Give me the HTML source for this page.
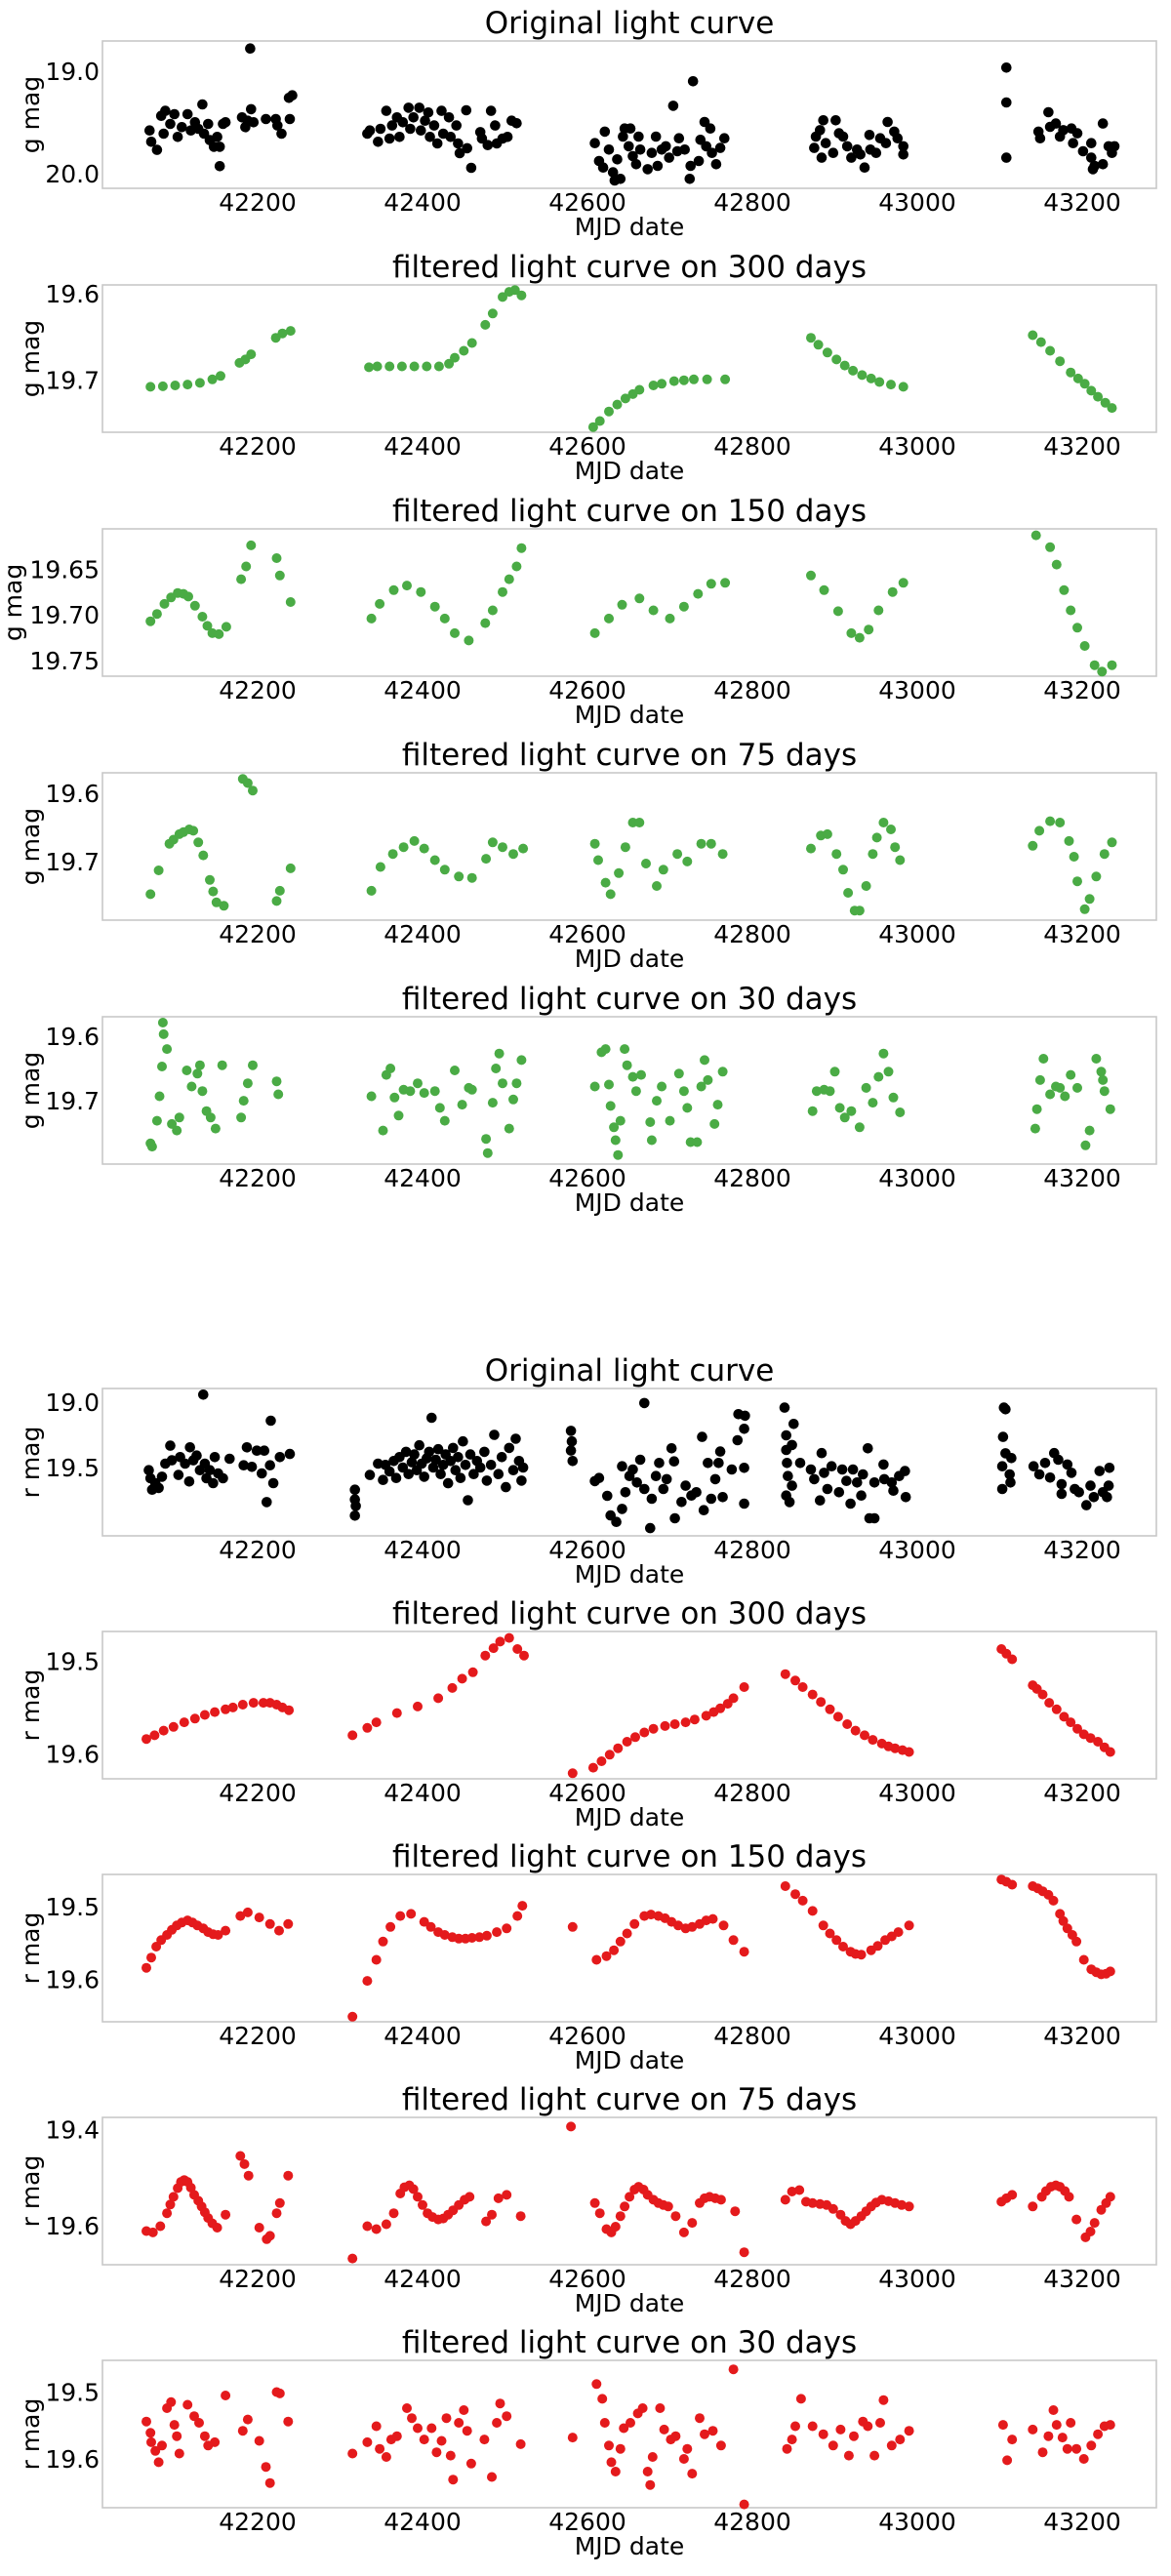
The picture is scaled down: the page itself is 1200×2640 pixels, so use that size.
<!DOCTYPE html>
<html>
<head>
<meta charset="utf-8">
<style>
  html, body { margin: 0; padding: 0; background: #ffffff; }
  svg { display: block; }
  text { font-family: "DejaVu Sans", "Liberation Sans", sans-serif; fill: #000; }
</style>
</head>
<body>
<svg id="chart" width="1200" height="2640" viewBox="0 0 1200 2640" xmlns="http://www.w3.org/2000/svg">
  <rect x="0" y="0" width="1200" height="2640" fill="#ffffff"/>
</svg>
<script>
// ---------- data: x tick labels ----------
const xTicks = [42200, 42400, 42600, 42800, 43000, 43200];

// ---------- g band: original ----------
const gOrigDates = [42069,42071,42078,42083,42088,42086,42094,42099,42103,42108,42115,42119,42124,42128,42133,42135,42140,42142,42147,42151,42154,42154,42158,42161,42181,42185,42188,42191,42192,42195,42210,42222,42224,42229,42239,42238,42242,
42333,42336,42346,42349,42356,42360,42363,42369,42372,42376,42383,42385,42389,42396,42398,42403,42407,42409,42414,42418,42423,42425,42432,42434,42441,42443,42445,42453,42454,42459,42470,42472,42479,42483,42488,42490,42497,42503,42508,42514,
42609,42621,42614,42619,42626,42631,42633,42640,42636,42643,42645,42650,42652,42655,42659,42662,42664,42673,42678,42683,42685,42690,42695,42699,42704,42709,42711,42718,42724,42725,42728,42735,42737,42742,42749,42744,42751,42756,42761,42766,
42875,42877,42882,42886,42884,42889,42898,42901,42905,42910,42915,42920,42927,42931,42936,42943,42942,42950,42955,42964,42962,42972,42976,42983,42983,
43108,43108,43108,43147,43149,43159,43161,43168,43173,43177,43187,43189,43194,43201,43211,43211,43215,43213,43225,43225,43232,43239,43236];
const gOrigMags = [19.578,19.689,19.768,19.435,19.387,19.610,19.514,19.419,19.641,19.546,19.419,19.578,19.498,19.562,19.324,19.610,19.514,19.673,19.737,19.641,19.737,19.927,19.514,19.498,19.451,19.546,19.483,18.778,19.371,19.498,19.467,19.467,19.530,19.610,19.467,19.260,19.235,
19.610,19.578,19.689,19.562,19.387,19.657,19.530,19.451,19.641,19.498,19.356,19.562,19.451,19.356,19.578,19.483,19.403,19.641,19.530,19.705,19.387,19.610,19.451,19.641,19.530,19.705,19.800,19.381,19.752,19.943,19.594,19.657,19.721,19.387,19.530,19.705,19.657,19.641,19.483,19.508,
19.702,19.590,19.876,19.940,19.765,19.987,20.067,20.051,19.860,19.638,19.559,19.733,19.559,19.829,19.908,19.638,19.765,19.956,19.797,19.638,19.924,19.765,19.733,19.844,19.337,19.781,19.654,19.765,20.051,19.924,19.098,19.876,19.670,19.495,19.559,19.733,19.797,19.908,19.749,19.654,
19.749,19.638,19.575,19.479,19.844,19.702,19.797,19.479,19.606,19.638,19.733,19.844,19.765,19.813,19.940,19.765,19.622,19.797,19.654,19.495,19.702,19.590,19.654,19.733,19.813,
18.965,19.305,19.844,19.590,19.654,19.400,19.543,19.511,19.638,19.575,19.559,19.702,19.606,19.781,19.702,19.844,19.924,19.956,19.511,19.908,19.733,19.733,19.797];

// ---------- g band: filtered 300 days ----------
const g300Dates = [42070,42085,42100,42115,42130,42145,42155,42178,42185,42192,42222,42230,42240,
42335,42345,42360,42375,42390,42405,42420,42432,42439,42450,42460,42476,42485,42497,42505,42512,42520,
42607,42615,42626,42636,42646,42655,42663,42680,42690,42705,42717,42729,42745,42767,
42871,42880,42891,42902,42912,42922,42933,42944,42954,42968,42983,
43140,43150,43161,43173,43186,43195,43203,43211,43219,43228,43236];
const g300Mags = [19.7075,19.707,19.706,19.705,19.703,19.699,19.695,19.680,19.676,19.670,19.651,19.646,19.643,
19.685,19.684,19.684,19.684,19.684,19.684,19.684,19.681,19.674,19.666,19.657,19.636,19.623,19.604,19.598,19.596,19.602,
19.754,19.747,19.736,19.728,19.721,19.716,19.711,19.706,19.704,19.701,19.700,19.699,19.699,19.699,
19.651,19.659,19.668,19.676,19.683,19.689,19.694,19.698,19.702,19.705,19.7075,
19.648,19.656,19.666,19.678,19.691,19.698,19.704,19.712,19.719,19.726,19.732];

// ---------- g band: filtered 150 days ----------
const g150Dates = [42070,42078,42087,42095,42103,42110,42116,42124,42133,42139,42145,42153,42162,
42180,42186,42192,42223,42227,42240,
42338,42348,42365,42381,42398,42415,42427,42439,42456,42476,42485,42497,42505,42514,42520,
42609,42626,42642,42663,42680,42700,42717,42734,42750,42767,
42871,42887,42904,42920,42930,42941,42953,42970,42983,
43144,43161,43169,43178,43186,43194,43203,43215,43224,43236];
const g150Mags = [19.707,19.699,19.688,19.681,19.676,19.677,19.680,19.690,19.702,19.712,19.720,19.721,19.713,
19.661,19.647,19.624,19.638,19.657,19.686,
19.704,19.688,19.673,19.668,19.675,19.691,19.704,19.720,19.728,19.709,19.695,19.675,19.661,19.647,19.627,
19.720,19.704,19.689,19.682,19.695,19.704,19.691,19.677,19.666,19.665,
19.657,19.673,19.696,19.720,19.725,19.716,19.695,19.675,19.665,
19.613,19.626,19.645,19.673,19.695,19.714,19.734,19.755,19.762,19.755];

// ---------- g band: filtered 75 days ----------
const g75Dates = [42070,42080,42093,42098,42105,42110,42117,42122,42128,42134,42142,42146,42150,42159,
42182,42188,42194,42223,42227,42240,
42338,42349,42364,42377,42390,42402,42415,42427,42444,42460,42477,42485,42497,42510,42522,
42609,42613,42622,42628,42638,42646,42655,42663,42671,42684,42692,42709,42721,42738,42750,42764,
42871,42883,42891,42902,42910,42916,42924,42930,42938,42946,42951,42959,42968,42973,42979,
43140,43148,43161,43173,43184,43190,43194,43203,43209,43217,43227,43236];
const g75Mags = [19.748,19.713,19.674,19.668,19.660,19.657,19.653,19.655,19.672,19.691,19.727,19.744,19.760,19.765,
19.579,19.585,19.596,19.758,19.743,19.710,
19.743,19.708,19.689,19.679,19.670,19.681,19.698,19.712,19.722,19.724,19.696,19.672,19.679,19.689,19.681,
19.674,19.698,19.731,19.748,19.717,19.679,19.643,19.643,19.703,19.736,19.712,19.689,19.700,19.674,19.674,19.689,
19.681,19.662,19.660,19.689,19.712,19.746,19.772,19.772,19.736,19.689,19.665,19.643,19.653,19.679,19.698,
19.677,19.655,19.641,19.643,19.670,19.693,19.729,19.770,19.755,19.722,19.689,19.672];

// ---------- g band: filtered 30 days ----------
const g30Dates = [42070,42072,42078,42081,42084,42086,42085,42090,42096,42102,42105,42114,42120,42127,42130,42133,42138,42143,42149,42157,42180,42183,42188,42194,42223,42225,
42338,42352,42356,42361,42366,42371,42377,42385,42394,42402,42415,42421,42427,42439,42448,42456,42460,42477,42479,42485,42489,42493,42497,42505,42510,42514,42520,
42609,42617,42622,42626,42628,42632,42634,42637,42640,42645,42648,42655,42659,42665,42676,42678,42684,42690,42700,42711,42717,42721,42725,42733,42738,42742,42746,42754,42758,42764,
42873,42878,42887,42894,42900,42906,42912,42920,42930,42938,42946,42953,42959,42965,42971,42979,
43143,43145,43149,43153,43161,43168,43173,43179,43186,43194,43204,43209,43217,43223,43225,43227,43234];
const g30Mags = [19.766,19.771,19.731,19.693,19.647,19.597,19.579,19.620,19.736,19.746,19.726,19.653,19.678,19.658,19.645,19.685,19.716,19.726,19.743,19.645,19.726,19.700,19.673,19.645,19.670,19.690,
19.693,19.746,19.660,19.650,19.695,19.723,19.683,19.685,19.673,19.688,19.685,19.711,19.731,19.653,19.706,19.680,19.683,19.759,19.781,19.703,19.650,19.627,19.673,19.743,19.698,19.673,19.637,
19.678,19.625,19.620,19.675,19.708,19.741,19.761,19.784,19.731,19.620,19.645,19.663,19.685,19.660,19.733,19.761,19.700,19.678,19.731,19.658,19.685,19.711,19.764,19.764,19.678,19.637,19.668,19.736,19.706,19.655,
19.716,19.685,19.683,19.685,19.655,19.711,19.726,19.716,19.741,19.680,19.703,19.663,19.627,19.655,19.695,19.718,
19.743,19.713,19.668,19.635,19.690,19.678,19.680,19.693,19.660,19.680,19.769,19.746,19.635,19.655,19.668,19.685,19.713];

// ---------- r band: original ----------
const rOrigDates = [42068,42070,42072,42076,42080,42084,42088,42094,42096,42104,42106,42112,42117,42118,42122,42126,42130,42134,42136,42138,42142,42146,42148,42152,42158,42166,42183,42187,42193,42199,42205,42208,42211,42215,42216,42219,42227,42239,
42318,42318,42318,42319,42336,42346,42352,
42355,42360,42365,42368,42372,42376,42380,42383,42387,42390,42393,42396,42399,42402,42405,42408,42411,42413,42416,42419,42422,42425,42428,42431,42434,42437,42440,42443,42446,42449,42452,42455,42458,42462,42466,42470,42475,42478,42483,42487,42492,42496,42501,42505,42510,42513,42517,42520,42522,
42580,42581,42580,42582,
42669,42609,42614,42624,42628,42635,42642,42642,42646,42651,42655,42660,42664,42669,42676,42678,42683,42687,42692,42696,42702,42705,42706,42714,42719,42726,42732,42739,42741,42746,42750,42755,42759,42761,42764,42775,42782,42783,42791,42790,42790,42790,
42839,42841,42841,42842,42843,42841,42845,42848,42850,42848,42858,42871,42875,42882,42884,42887,42891,42896,42905,42909,42914,42919,42922,42927,42932,42934,42940,42942,42948,42948,42959,42960,42969,42971,42978,42985,42986,
43103,43104,43105,43107,43103,43107,43112,43114,43113,43141,43148,43155,43161,43166,43171,43175,43175,43182,43187,43191,43196,43205,43210,43214,43221,43225,43230,43232,43233];
const rOrigMags = [19.520,19.582,19.669,19.619,19.656,19.570,19.470,19.333,19.445,19.557,19.420,19.470,19.607,19.346,19.445,19.408,19.520,18.943,19.470,19.582,19.520,19.619,19.420,19.545,19.582,19.433,19.483,19.346,19.495,19.371,19.545,19.371,19.764,19.483,19.142,19.619,19.420,19.396,
19.669,19.744,19.868,19.794,19.557,19.470,19.595,
19.48,19.53,19.45,19.58,19.42,19.50,19.38,19.55,19.46,19.40,19.52,19.33,19.47,19.57,19.43,19.38,19.12,19.50,19.44,19.36,19.55,19.48,19.40,19.62,19.45,19.35,19.52,19.42,19.58,19.30,19.48,19.75,19.40,19.55,19.45,19.50,19.38,19.60,19.48,19.25,19.55,19.42,19.65,19.35,19.52,19.28,19.45,19.60,19.50,
19.22,19.30,19.37,19.45,
19.007,19.604,19.580,19.716,19.866,19.915,19.816,19.490,19.689,19.565,19.515,19.614,19.440,19.664,19.963,19.739,19.565,19.465,19.664,19.589,19.353,19.453,19.888,19.763,19.639,19.714,19.689,19.266,19.826,19.465,19.739,19.589,19.465,19.378,19.726,19.515,19.291,19.092,19.104,19.204,19.502,19.776,
19.042,19.254,19.366,19.465,19.565,19.714,19.764,19.328,19.167,19.639,19.465,19.515,19.589,19.751,19.390,19.540,19.664,19.490,19.689,19.515,19.602,19.776,19.515,19.614,19.714,19.552,19.353,19.888,19.888,19.614,19.477,19.589,19.614,19.677,19.565,19.527,19.726,
19.664,19.266,19.042,19.055,19.490,19.391,19.552,19.428,19.614,19.490,19.552,19.465,19.577,19.390,19.440,19.627,19.701,19.477,19.540,19.664,19.689,19.788,19.639,19.726,19.527,19.689,19.726,19.639,19.502];

// ---------- r band: filtered 300 days ----------
const r300Dates = [42065,42075,42086,42098,42111,42124,42136,42148,42161,42170,42182,42195,42207,42215,42223,42230,42238,
42315,42333,42344,42369,42394,42419,42436,42448,42461,42476,42486,42494,42505,42515,42523,
42582,42607,42617,42627,42637,42648,42658,42669,42680,42694,42706,42719,42730,42744,42753,42761,42770,42777,42790,
42840,42852,42861,42873,42883,42894,42904,42915,42925,42936,42946,42957,42965,42973,42982,42990,
43102,43108,43115,43140,43145,43152,43160,43169,43178,43186,43194,43202,43210,43219,43227,43234];
const r300Mags = [19.584,19.580,19.575,19.571,19.566,19.562,19.558,19.555,19.552,19.550,19.547,19.545,19.545,19.545,19.547,19.550,19.553,
19.580,19.572,19.566,19.556,19.549,19.540,19.529,19.519,19.512,19.494,19.486,19.479,19.475,19.487,19.494,
19.621,19.615,19.608,19.601,19.594,19.587,19.582,19.577,19.573,19.570,19.568,19.566,19.563,19.559,19.555,19.551,19.546,19.540,19.528,
19.514,19.521,19.528,19.536,19.544,19.552,19.560,19.568,19.575,19.580,19.585,19.589,19.592,19.594,19.596,19.598,
19.487,19.492,19.498,19.526,19.530,19.536,19.545,19.552,19.560,19.566,19.573,19.579,19.583,19.587,19.593,19.598];

// ---------- r band: filtered 150 days ----------
const r150Dates = [42065,42071,42077,42083,42090,42096,42102,42108,42115,42121,42127,42134,42140,42146,42152,42161,42179,42188,42202,42215,42226,42237,
42315,42333,42344,42352,42361,42373,42386,42402,42410,42419,42427,42436,42444,42452,42460,42469,42478,42490,42502,42515,42521,
42582,42611,42623,42632,42640,42648,42657,42669,42677,42686,42694,42702,42710,42719,42727,42736,42744,42752,42765,42777,42790,
42840,42852,42861,42873,42886,42894,42902,42910,42919,42925,42932,42944,42952,42961,42969,42977,42990,
43102,43108,43115,43140,43146,43152,43159,43165,43173,43177,43182,43188,43193,43202,43211,43217,43223,43229,43234];
const r150Mags = [19.584,19.570,19.555,19.546,19.539,19.532,19.526,19.522,19.519,19.522,19.526,19.530,19.535,19.538,19.539,19.533,19.513,19.508,19.515,19.524,19.533,19.524,
19.651,19.602,19.573,19.548,19.528,19.513,19.510,19.521,19.528,19.535,19.539,19.542,19.544,19.544,19.543,19.542,19.540,19.535,19.530,19.513,19.499,
19.528,19.573,19.568,19.560,19.548,19.537,19.524,19.513,19.511,19.513,19.516,19.521,19.526,19.530,19.528,19.524,19.519,19.517,19.526,19.546,19.562,
19.472,19.483,19.492,19.506,19.526,19.537,19.546,19.555,19.562,19.565,19.566,19.560,19.554,19.546,19.541,19.535,19.526,
19.463,19.466,19.470,19.472,19.475,19.479,19.484,19.492,19.510,19.520,19.530,19.539,19.548,19.573,19.586,19.590,19.593,19.592,19.589];

// ---------- r band: filtered 75 days ----------
const r75Dates = [42065,42073,42082,42090,42094,42098,42103,42107,42111,42115,42119,42123,42128,42132,42136,42140,42145,42151,42161,42179,42184,42189,42202,42211,42215,42223,42227,42237,
42315,42333,42344,42356,42365,42373,42378,42384,42389,42394,42400,42406,42412,42419,42425,42431,42437,42444,42451,42457,42477,42484,42492,42502,42519,
42580,42609,42615,42623,42629,42634,42640,42645,42651,42657,42662,42668,42673,42680,42686,42692,42698,42707,42717,42727,42736,42742,42748,42755,42762,42779,42790,
42840,42848,42857,42865,42873,42882,42890,42898,42907,42913,42919,42925,42932,42938,42944,42950,42957,42965,42973,42981,42990,
43102,43108,43115,43140,43151,43156,43162,43168,43173,43179,43184,43193,43204,43210,43215,43223,43229,43234];
const r75Mags = [19.611,19.614,19.601,19.574,19.556,19.540,19.522,19.509,19.505,19.509,19.521,19.536,19.548,19.560,19.572,19.584,19.595,19.604,19.577,19.455,19.472,19.496,19.604,19.628,19.621,19.574,19.553,19.496,
19.668,19.601,19.607,19.597,19.574,19.533,19.520,19.516,19.524,19.540,19.557,19.574,19.582,19.587,19.585,19.577,19.568,19.557,19.546,19.540,19.591,19.577,19.543,19.536,19.580,
19.394,19.553,19.574,19.607,19.614,19.602,19.580,19.560,19.540,19.525,19.519,19.525,19.536,19.546,19.553,19.557,19.560,19.580,19.614,19.594,19.553,19.543,19.540,19.543,19.546,19.570,19.655,
19.546,19.529,19.526,19.550,19.553,19.555,19.557,19.565,19.577,19.590,19.597,19.590,19.580,19.570,19.560,19.552,19.546,19.549,19.553,19.557,19.560,
19.550,19.543,19.536,19.560,19.540,19.528,19.519,19.516,19.519,19.528,19.540,19.587,19.624,19.612,19.594,19.567,19.553,19.540];

// ---------- r band: filtered 30 days ----------
const r30Dates = [42065,42070,42071,42076,42080,42084,42090,42095,42099,42102,42105,42115,42123,42129,42136,42140,42148,42161,42182,42188,42202,42210,42215,42223,42227,42237,
42315,42333,42344,42348,42356,42362,42369,42381,42387,42394,42402,42411,42417,42423,42429,42434,42437,42444,42450,42454,42459,42475,42484,42490,42494,42502,42519,
42582,42611,42618,42621,42626,42629,42634,42640,42644,42652,42661,42667,42673,42676,42679,42688,42693,42701,42707,42717,42721,42727,42736,42742,42752,42762,42777,42790,
42842,42848,42852,42859,42873,42886,42898,42907,42917,42923,42934,42940,42948,42955,42959,42969,42979,42990,
43104,43109,43115,43140,43152,43159,43165,43169,43176,43182,43186,43193,43202,43211,43219,43227,43234];
const r30Mags = [19.544,19.561,19.575,19.588,19.605,19.580,19.524,19.515,19.549,19.566,19.592,19.519,19.536,19.546,19.566,19.580,19.575,19.505,19.558,19.541,19.573,19.612,19.636,19.500,19.502,19.544,
19.592,19.575,19.551,19.585,19.597,19.571,19.566,19.524,19.539,19.554,19.571,19.554,19.590,19.573,19.539,19.595,19.631,19.546,19.527,19.558,19.607,19.571,19.627,19.546,19.517,19.536,19.578,
19.568,19.488,19.510,19.546,19.580,19.605,19.619,19.585,19.554,19.546,19.532,19.524,19.619,19.639,19.597,19.524,19.556,19.571,19.566,19.600,19.585,19.622,19.539,19.563,19.558,19.580,19.466,19.668,
19.585,19.571,19.551,19.510,19.551,19.563,19.580,19.556,19.595,19.566,19.544,19.551,19.595,19.546,19.512,19.580,19.571,19.558,
19.549,19.602,19.571,19.556,19.590,19.566,19.527,19.549,19.568,19.585,19.546,19.585,19.600,19.580,19.563,19.551,19.549];

// ---------- y tick labels per panel ----------
const yTicksP1 = ["19.0", "20.0"];
const yTicksP2 = ["19.6", "19.7"];
const yTicksP3 = ["19.65", "19.70", "19.75"];
const yTicksP4 = ["19.6", "19.7"];
const yTicksP5 = ["19.6", "19.7"];
const yTicksP6 = ["19.0", "19.5"];
const yTicksP7 = ["19.5", "19.6"];
const yTicksP8 = ["19.5", "19.6"];
const yTicksP9 = ["19.4", "19.6"];
const yTicksP10 = ["19.5", "19.6"];

// ---------- layout ----------
const NS = "http://www.w3.org/2000/svg";
const svg = document.getElementById("chart");
const PLOT_L = 105, PLOT_R = 1185, PLOT_H = 151;
const X_MIN = 42011.8, X_MAX = 43289.9;
function xScale(d) { return PLOT_L + (d - X_MIN) / (X_MAX - X_MIN) * (PLOT_R - PLOT_L); }

const panels = [
  {key:"g-original", title:"Original light curve", ylabel:"g mag", top:42, ymin:18.705, ymax:20.143, ticks:yTicksP1, dates:gOrigDates, mags:gOrigMags, color:"#000000", r:5.3, ylx:40},
  {key:"g-300", title:"filtered light curve on 300 days", ylabel:"g mag", top:292, ymin:19.590, ymax:19.760, ticks:yTicksP2, dates:g300Dates, mags:g300Mags, color:"#4aab45", r:5, ylx:40},
  {key:"g-150", title:"filtered light curve on 150 days", ylabel:"g mag", top:542, ymin:19.606, ymax:19.767, ticks:yTicksP3, dates:g150Dates, mags:g150Mags, color:"#4aab45", r:5, ylx:22},
  {key:"g-75", title:"filtered light curve on 75 days", ylabel:"g mag", top:792, ymin:19.570, ymax:19.786, ticks:yTicksP4, dates:g75Dates, mags:g75Mags, color:"#4aab45", r:5, ylx:40},
  {key:"g-30", title:"filtered light curve on 30 days", ylabel:"g mag", top:1042, ymin:19.570, ymax:19.798, ticks:yTicksP5, dates:g30Dates, mags:g30Mags, color:"#4aab45", r:5, ylx:40},
  {key:"r-original", title:"Original light curve", ylabel:"r mag", top:1423, ymin:18.896, ymax:20.022, ticks:yTicksP6, dates:rOrigDates, mags:rOrigMags, color:"#000000", r:5.3, ylx:40},
  {key:"r-300", title:"filtered light curve on 300 days", ylabel:"r mag", top:1672, ymin:19.468, ymax:19.627, ticks:yTicksP7, dates:r300Dates, mags:r300Mags, color:"#e41a1c", r:5, ylx:40},
  {key:"r-150", title:"filtered light curve on 150 days", ylabel:"r mag", top:1921, ymin:19.456, ymax:19.658, ticks:yTicksP8, dates:r150Dates, mags:r150Mags, color:"#e41a1c", r:5, ylx:40},
  {key:"r-75", title:"filtered light curve on 75 days", ylabel:"r mag", top:2170, ymin:19.375, ymax:19.681, ticks:yTicksP9, dates:r75Dates, mags:r75Mags, color:"#e41a1c", r:5, ylx:40},
  {key:"r-30", title:"filtered light curve on 30 days", ylabel:"r mag", top:2419, ymin:19.4525, ymax:19.673, ticks:yTicksP10, dates:r30Dates, mags:r30Mags, color:"#e41a1c", r:5, ylx:40}
];

function mk(tag, attrs, parent) {
  const el = document.createElementNS(NS, tag);
  for (const k in attrs) el.setAttribute(k, attrs[k]);
  parent.appendChild(el);
  return el;
}

panels.forEach(function(p) {
  const g = mk("g", {}, svg);
  
  
  const yScale = function(m) { return p.top + (m - p.ymin) / (p.ymax - p.ymin) * PLOT_H; };

  const title = mk("text", {x: (PLOT_L + PLOT_R) / 2, y: p.top - 8, "text-anchor": "middle", "font-size": "31"}, g);
  title.textContent = p.title;
  
  

  const frame = mk("rect", {x: PLOT_L, y: p.top, width: PLOT_R - PLOT_L, height: PLOT_H, fill: "none", stroke: "#c8c8c8", "stroke-width": "1.6"}, g);
  
  

  const pts = mk("g", {fill: p.color}, g);
  
  
  for (let i = 0; i < p.dates.length; i++) {
    const c = mk("circle", {cx: xScale(p.dates[i]).toFixed(1), cy: yScale(p.mags[i]).toFixed(1), r: p.r}, pts);
    
    
  }

  xTicks.forEach(function(t) {
    const tl = mk("text", {x: xScale(t).toFixed(1), y: p.top + PLOT_H + 23, "text-anchor": "middle", "font-size": "25"}, g);
    tl.textContent = String(t);
    
    
  });

  p.ticks.forEach(function(t) {
    const tl = mk("text", {x: 102, y: (yScale(parseFloat(t)) + 9).toFixed(1), "text-anchor": "end", "font-size": "25"}, g);
    tl.textContent = t;
    
    
  });

  const xl = mk("text", {x: (PLOT_L + PLOT_R) / 2, y: p.top + PLOT_H + 48, "text-anchor": "middle", "font-size": "25"}, g);
  xl.textContent = "MJD date";
  
  

  const cy = p.top + PLOT_H / 2;
  const yl = mk("text", {x: p.ylx, y: cy, "text-anchor": "middle", "font-size": "25", transform: "rotate(-90 " + p.ylx + " " + cy + ")"}, g);
  yl.textContent = p.ylabel;
  
  
});
</script>
</body>
</html>
